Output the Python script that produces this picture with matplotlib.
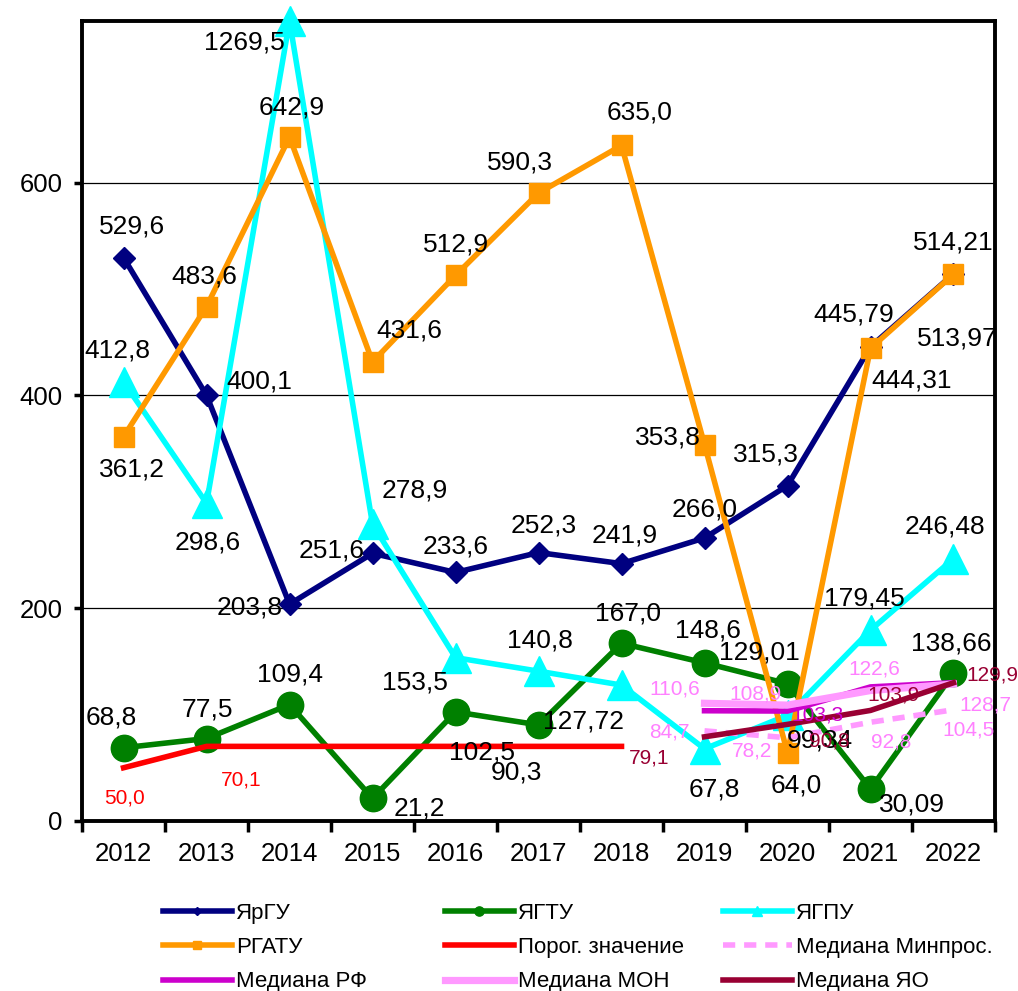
import numpy as np
import matplotlib
matplotlib.use("Agg")
import matplotlib.pyplot as plt

plt.rcParams['font.family'] = ['Liberation Sans', 'DejaVu Sans']

# ---------------- data ----------------
years = [2012, 2013, 2014, 2015, 2016, 2017, 2018, 2019, 2020, 2021, 2022]
yargu = [529.6, 400.1, 203.8, 251.6, 233.6, 252.3, 241.9, 266.0, 315.3, 445.79, 514.21]
yagtu = [68.8, 77.5, 109.4, 21.2, 102.5, 90.3, 167.0, 148.6, 129.01, 30.09, 138.66]
yagpu = [412.8, 298.6, 1269.5, 278.9, 153.5, 140.8, 127.72, 67.8, 99.34, 179.45, 246.48]
rgatu = [361.2, 483.6, 642.9, 431.6, 512.9, 590.3, 635.0, 353.8, 64.0, 444.31, 513.97]
threshold_years = [2012, 2013, 2014, 2015, 2016, 2017, 2018]
threshold = [50.0, 70.1, 70.1, 70.1, 70.1, 70.1, 70.1]
median_years = [2019, 2020, 2021, 2022]
median_minpros = [84.7, 78.2, 92.8, 104.5]
median_rf = [103.6, 103.3, 126.0, 130.0]
median_mon = [110.6, 108.9, 122.6, 128.7]
median_yao = [79.1, 90.8, 103.9, 129.9]

YMAX = 752

# ---------------- label offsets (pixels; +x right, +y down) ----------------
off_yargu = [(8, -31), (53, -14), (-40, 3), (-41, -3), (0, -26), (5, -27), (3, -28),
             (0, -28), (-22, -31), (-17, -32), (0, -31)]
off_yagtu = [(-12, -30), (1, -29), (0, -30), (47, 10), (26, 41), (-22, 48), (6, -30),
             (3, -32), (-28, -31), (41, 16), (-2, -30)]
off_yagpu = [(-6, -31), (1, 39), (-45, 21), (42, -34), (-41, 25), (1, -31), (-38, 36),
             (10, 41), (32, 25), (-6, -32), (-9, -32)]
off_rgatu = [(8, 33), (-2, -30), (2, -30), (37, -31), (0, -31), (-19, -31), (18, -33),
             (-37, -7), (9, 33), (41, 32), (4, 64)]
off_threshold = [(1, 30), (35, 34)]
off_minpros = [(-35, 1), (-35, 13), (21, 20), (15, 20)]
off_mon = [(-30, -14), (-32, -11), (4, -22), (32, 21)]
off_rf = [None, (30, 4), None, None]
off_yao = [(-55, 21), (42, 17), (23, -15), (39, -8)]


def fmt(v):
    if abs(round(v, 1) - v) < 1e-9:
        s = f"{v:.1f}"
    else:
        s = f"{v:.2f}"
    return s.replace('.', ',')


fig = plt.figure(figsize=(10.18, 9.91), dpi=100)
ax = fig.add_axes([0.0806, 0.1716, 0.8968, 0.8072])

x = np.arange(len(years))
xt = np.array([years.index(y) for y in threshold_years])
xm = np.array([years.index(y) for y in median_years])

lw = 4.0
h_yargu, = ax.plot(x, np.minimum(yargu, YMAX), color='#000080', lw=lw, marker='D', ms=11,
                   label='ЯрГУ', zorder=3, clip_on=False)
h_yagtu, = ax.plot(x, np.minimum(yagtu, YMAX), color='#008000', lw=lw, marker='o', ms=19,
                   label='ЯГТУ', zorder=3, clip_on=False)
h_yagpu, = ax.plot(x, np.minimum(yagpu, YMAX), color='#00FFFF', lw=lw, marker='^', ms=21,
                   label='ЯГПУ', zorder=3, clip_on=False)
h_rgatu, = ax.plot(x, np.minimum(rgatu, YMAX), color='#FF9900', lw=lw, marker='s', ms=15,
                   label='РГАТУ', zorder=3, clip_on=False)
h_thr, = ax.plot(xt, threshold, color='#FF0000', lw=lw, label='Порог. значение', zorder=3)
h_minpros, = ax.plot(xm, median_minpros, color='#FF99FF', lw=lw, ls=(0, (2.2, 1.6)),
                     label='Медиана Минпрос.', zorder=3)
h_rf, = ax.plot(xm, median_rf, color='#CC00CC', lw=lw, label='Медиана РФ', zorder=3)
h_mon, = ax.plot(xm, median_mon, color='#FF99FF', lw=5.2, label='Медиана МОН', zorder=3)
h_yao, = ax.plot(xm, median_yao, color='#990033', lw=lw, label='Медиана ЯО', zorder=3)


def put_labels(xs, vals, offs, color, size):
    for xi, v, o in zip(xs, vals, offs):
        if o is None:
            continue
        ax.annotate(fmt(v), (xi, min(v, YMAX)), xytext=(o[0], -o[1]),
                    textcoords='offset pixels', ha='center', va='center',
                    fontsize=size, color=color, zorder=6, annotation_clip=False)


big = 19
small = 15
put_labels(x, yargu, off_yargu, 'black', big)
put_labels(x, yagtu, off_yagtu, 'black', big)
put_labels(x, yagpu, off_yagpu, 'black', big)
put_labels(x, rgatu, off_rgatu, 'black', big)
put_labels(xt, threshold, off_threshold, '#FF0000', small)
put_labels(xm, median_minpros, off_minpros, '#FF80FF', small)
put_labels(xm, median_mon, off_mon, '#FF80FF', small)
put_labels(xm, median_rf, off_rf, '#CC00CC', small)
put_labels(xm, median_yao, off_yao, '#990033', small)

# ---------------- axes ----------------
ax.set_xlim(-0.5, len(years) - 0.5)
ax.set_ylim(0, YMAX)
ax.set_yticks([0, 200, 400, 600])
ax.set_xticks(x)
ax.set_xticklabels([str(y) for y in years])
ax.set_xticks(np.arange(len(years) + 1) - 0.5, minor=True)
ax.tick_params(axis='x', which='major', length=0, labelsize=18.5, pad=15)
ax.tick_params(axis='x', which='minor', length=8, width=2.5, direction='out')
ax.tick_params(axis='y', which='major', length=6, width=2.5, direction='out',
               labelsize=18.5, pad=8)
ax.yaxis.grid(True, color='black', lw=0.9)
ax.set_axisbelow(True)
for sp in ax.spines.values():
    sp.set_linewidth(2.8)
    sp.set_color('black')

# ---------------- legend ----------------
cols = [[h_yargu, h_rgatu, h_rf], [h_yagtu, h_thr, h_mon], [h_yagpu, h_minpros, h_yao]]
col_x = [0.160, 0.437, 0.710]
for hs, cx in zip(cols, col_x):
    fig.legend(handles=hs, loc='upper left', bbox_to_anchor=(cx, 0.089),
               frameon=False, fontsize=16, handlelength=3.1, handletextpad=0.2,
               labelspacing=0.6, markerscale=0.35, borderaxespad=0, borderpad=0)

fig.savefig('out.png', dpi=100)
